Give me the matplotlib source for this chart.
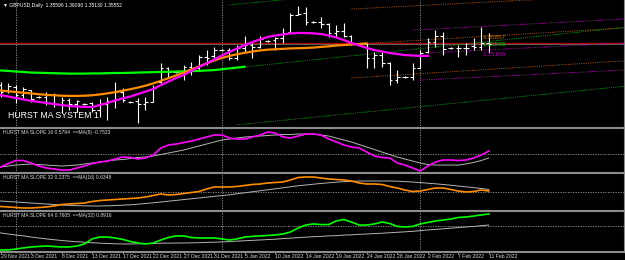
import numpy as np
import matplotlib
matplotlib.use("Agg")
import matplotlib.pyplot as plt
from matplotlib.lines import Line2D

# barre giornaliere GBPUSD (domeniche incluse), indice 0 = 29 Nov 2021
date_labels = ["29 Nov 2021", "3 Dec 2021", "8 Dec 2021", "13 Dec 2021", "17 Dec 2021",
               "22 Dec 2021", "27 Dec 2021", "31 Dec 2021", "5 Jan 2022", "10 Jan 2022",
               "14 Jan 2022", "19 Jan 2022", "24 Jan 2022", "28 Jan 2022", "2 Feb 2022",
               "7 Feb 2022", "11 Feb 2022"]

hi = [1.3374, 1.3369, 1.3359, 1.3350, 1.3335, 1.3307, 1.3326, 1.3321, 1.3302, 1.3297,
      1.3287, 1.3273, 1.3278, 1.3292, 1.3302, 1.3374, 1.3345, 1.3283, 1.3297, 1.3302,
      1.3359, 1.3465, 1.3446, 1.3427, 1.3455, 1.3470, 1.3503, 1.3527, 1.3542, 1.3532,
      1.3537, 1.3551, 1.3595, 1.3561, 1.3595, 1.3575, 1.3590, 1.3633, 1.3705, 1.3739,
      1.3734, 1.3667, 1.3686, 1.3657, 1.3647, 1.3657, 1.3599, 1.3561, 1.3561, 1.3518,
      1.3518, 1.3470, 1.3431, 1.3403, 1.3465, 1.3527, 1.3585, 1.3623, 1.3614, 1.3542,
      1.3551, 1.3561, 1.3585, 1.3638, 1.3609]
lo = [1.3302, 1.3321, 1.3273, 1.3297, 1.3278, 1.3297, 1.3263, 1.3254, 1.3225, 1.3239,
      1.3230, 1.3263, 1.3230, 1.3206, 1.3191, 1.3249, 1.3278, 1.3273, 1.3177, 1.3239,
      1.3278, 1.3369, 1.3393, 1.3417, 1.3383, 1.3407, 1.3431, 1.3455, 1.3489, 1.3523,
      1.3479, 1.3479, 1.3518, 1.3489, 1.3537, 1.3566, 1.3527, 1.3561, 1.3614, 1.3695,
      1.3647, 1.3657, 1.3633, 1.3590, 1.3585, 1.3590, 1.3551, 1.3551, 1.3441, 1.3441,
      1.3446, 1.3359, 1.3369, 1.3393, 1.3383, 1.3441, 1.3513, 1.3542, 1.3503, 1.3532,
      1.3494, 1.3503, 1.3527, 1.3527, 1.3513]
op = [1.3359, 1.3335, 1.3350, 1.3311, 1.3335, 1.3302, 1.3302, 1.3311, 1.3268, 1.3287,
      1.3268, 1.3268, 1.3273, 1.3239, 1.3268, 1.3283, 1.3326, 1.3278, 1.3283, 1.3268,
      1.3278, 1.3374, 1.3441, 1.3422, 1.3422, 1.3446, 1.3441, 1.3494, 1.3498, 1.3527,
      1.3527, 1.3489, 1.3537, 1.3551, 1.3542, 1.3570, 1.3575, 1.3585, 1.3614, 1.3695,
      1.3705, 1.3662, 1.3662, 1.3652, 1.3609, 1.3619, 1.3595, 1.3556, 1.3556, 1.3489,
      1.3503, 1.3465, 1.3383, 1.3398, 1.3398, 1.3441, 1.3518, 1.3566, 1.3595, 1.3537,
      1.3537, 1.3537, 1.3546, 1.3542, 1.3560]
cl = [1.3326, 1.3355, 1.3311, 1.3340, 1.3292, 1.3302, 1.3311, 1.3268, 1.3287, 1.3268,
      1.3283, 1.3268, 1.3239, 1.3268, 1.3283, 1.3326, 1.3287, 1.3278, 1.3268, 1.3278,
      1.3345, 1.3441, 1.3422, 1.3422, 1.3446, 1.3441, 1.3494, 1.3489, 1.3527, 1.3527,
      1.3489, 1.3537, 1.3551, 1.3542, 1.3580, 1.3570, 1.3585, 1.3609, 1.3695, 1.3700,
      1.3662, 1.3662, 1.3652, 1.3609, 1.3619, 1.3595, 1.3556, 1.3556, 1.3489, 1.3503,
      1.3465, 1.3383, 1.3398, 1.3398, 1.3441, 1.3513, 1.3566, 1.3595, 1.3532, 1.3537,
      1.3537, 1.3537, 1.3542, 1.3561, 1.3555]

# medie di Hurst (centrate, finiscono prima dell'ultima barra)
ma16 = [1.3311, 1.3304, 1.3297, 1.3290, 1.3283, 1.3278, 1.3273, 1.3268, 1.3263, 1.3259,
        1.3256, 1.3254, 1.3254, 1.3263, 1.3273, 1.3285, 1.3295, 1.3304, 1.3316, 1.3328,
        1.3340, 1.3359, 1.3376, 1.3393, 1.3407, 1.3427, 1.3446, 1.3463, 1.3482, 1.3501,
        1.3518, 1.3535, 1.3551, 1.3566, 1.3578, 1.3590, 1.3597, 1.3602, 1.3607, 1.3609,
        1.3609, 1.3607, 1.3604, 1.3597, 1.3587, 1.3575, 1.3561, 1.3549, 1.3537, 1.3527,
        1.3520, 1.3513, 1.3508, 1.3503, 1.3501, 1.3499, 1.3499]
ma32 = [1.3333, 1.3329, 1.3326, 1.3322, 1.3319, 1.3315, 1.3312, 1.3310, 1.3308, 1.3307,
        1.3307, 1.3308, 1.3310, 1.3314, 1.3319, 1.3325, 1.3332, 1.3339, 1.3347, 1.3356,
        1.3367, 1.3379, 1.3392, 1.3405, 1.3419, 1.3434, 1.3448, 1.3463, 1.3477, 1.3489,
        1.3499, 1.3507, 1.3514, 1.3520, 1.3525, 1.3529, 1.3531, 1.3533, 1.3535, 1.3536,
        1.3537, 1.3539, 1.3542, 1.3545, 1.3549, 1.3551, 1.3554, 1.3556, 1.3559]
ma64 = [1.3429, 1.3427, 1.3424, 1.3422, 1.3419, 1.3418, 1.3417, 1.3416, 1.3415, 1.3414,
        1.3414, 1.3414, 1.3415, 1.3415, 1.3416, 1.3417, 1.3417, 1.3418, 1.3419, 1.3420,
        1.3421, 1.3422, 1.3423, 1.3424, 1.3425, 1.3426, 1.3427, 1.3429, 1.3431, 1.3435,
        1.3439, 1.3443, 1.3447]

# canali tratteggiati: (barra inizio, prezzo inizio, barra fine, prezzo fine)
ch16 = [(54, 1.3623, 81.7, 1.3676), (56, 1.3513, 81.7, 1.3561), (55, 1.3383, 81.7, 1.3431)]
ch32 = [(46, 1.3724, 81.7, 1.3791), (48, 1.3559, 81.7, 1.3633), (46, 1.3393, 81.7, 1.3475)]
ch64 = [(30, 1.3744, 81.7, 1.3924), (32, 1.3446, 81.7, 1.3636), (31, 1.3168, 81.7, 1.3353)]
ch_labels = ["1.35857", "1.35598", "1.35100"]
ch_label_price = [1.3589, 1.3555, 1.3505]

red_level = 1.3563
bid = 1.35552
month_sep = [2, 29, 55]

slope16 = [-2.5, -1.83, -1.25, -1.25, -1.73, -2.31, -2.69, -2.88, -3.08, -3.08,
           -2.69, -2.31, -1.83, -1.54, -1.35, -0.96, -0.58, -0.67, -0.96, -0.77,
           -0.19, 1.15, 1.73, 1.92, 2.21, 2.5, 2.88, 3.27, 3.65, 3.65,
           3.08, 2.88, 2.88, 3.27, 3.65, 4.23, 4.04, 3.27, 3.08, 3.46,
           3.85, 3.85, 3.65, 2.88, 2.31, 1.73, 1.35, 1.15, 0.38, -0.38,
           -0.67, -0.77, -1.73, -2.12, -2.69, -3.27, -2.31, -1.54, -1.15, -1.15,
           -1.25, -1.15, -0.77, -0.19, 0.58]
slope16_ma = [-2.5, -2.31, -2.12, -2.02, -1.92, -2.02, -2.12, -2.21, -2.31, -2.21,
              -2.12, -1.92, -1.73, -1.54, -1.35, -1.15, -1.06, -0.87, -0.67, -0.58,
              -0.38, -0.1, 0.19, 0.48, 0.77, 1.15, 1.54, 1.92, 2.31, 2.69,
              2.88, 3.08, 3.27, 3.37, 3.46, 3.56, 3.65, 3.75, 3.75, 3.85,
              3.85, 3.85, 3.65, 3.46, 3.08, 2.69, 2.31, 1.83, 1.35, 0.87,
              0.38, -0.1, -0.58, -0.96, -1.35, -1.73, -2.02, -2.12, -2.12, -2.12,
              -2.12, -1.92, -1.63, -1.25, -0.77]
slope32 = [-3.63, -3.75, -3.88, -4.0, -4.0, -3.88, -3.75, -3.5, -3.13, -3.0,
           -2.88, -2.75, -2.38, -2.13, -2.0, -1.88, -1.75, -1.63, -1.5, -1.25,
           -0.88, -0.5, -0.75, -0.63, -0.38, -0.13, 0.13, 0.75, 1.25, 1.25,
           1.25, 1.38, 1.63, 1.88, 2.0, 2.25, 2.38, 2.5, 3.0, 3.63,
           3.75, 3.75, 3.5, 3.25, 3.13, 3.0, 2.75, 2.25, 2.0, 2.0,
           1.88, 1.38, 1.0, 0.5, 0.13, 0.25, 0.63, 1.0, 1.0, 0.63,
           0.25, 0.0, 0.13, 0.5, 0.25]
slope32_ma = [-2.25, -2.38, -2.5, -2.63, -2.75, -2.88, -3.0, -3.13, -3.25, -3.33,
              -3.4, -3.45, -3.5, -3.5, -3.45, -3.38, -3.3, -3.2, -3.05, -2.88,
              -2.7, -2.5, -2.3, -2.1, -1.9, -1.7, -1.5, -1.3, -1.1, -0.9,
              -0.7, -0.45, -0.2, 0.05, 0.3, 0.55, 0.8, 1.05, 1.3, 1.55,
              1.75, 1.95, 2.13, 2.3, 2.45, 2.58, 2.68, 2.75, 2.75, 2.75,
              2.75, 2.75, 2.7, 2.6, 2.5, 2.35, 2.2, 2.05, 1.88, 1.7,
              1.5, 1.3, 1.1, 0.88, 0.63]
slope64 = [-1.52, -1.52, -1.46, -1.39, -1.33, -1.30, -1.27, -1.30, -1.33, -1.33,
           -1.27, -1.14, -0.82, -0.70, -0.70, -0.76, -0.85, -0.98, -1.08, -1.14,
           -1.08, -0.89, -0.73, -0.63, -0.63, -0.73, -0.76, -0.76, -0.76, -0.82,
           -0.89, -0.82, -0.70, -0.66, -0.63, -0.60, -0.57, -0.51, -0.38, -0.13,
           0.06, 0.13, 0.09, 0.09, 0.32, 0.41, 0.25, 0.06, 0.06, 0.13,
           0.25, 0.16, -0.03, -0.06, -0.03, 0.13, 0.22, 0.32, 0.38, 0.44,
           0.54, 0.57, 0.63, 0.70, 0.76]
slope64_ma = [-0.44, -0.51, -0.57, -0.63, -0.70, -0.76, -0.82, -0.87, -0.92, -0.96,
              -1.00, -1.03, -1.06, -1.09, -1.11, -1.13, -1.14, -1.14, -1.13, -1.12,
              -1.11, -1.09, -1.09, -1.08, -1.08, -1.07, -1.06, -1.04, -1.03, -1.01,
              -0.99, -0.96, -0.94, -0.91, -0.89, -0.86, -0.84, -0.80, -0.77, -0.74,
              -0.71, -0.68, -0.66, -0.63, -0.61, -0.58, -0.56, -0.53, -0.51, -0.48,
              -0.46, -0.43, -0.40, -0.37, -0.34, -0.30, -0.25, -0.22, -0.18, -0.14,
              -0.10, -0.06, -0.03, 0.02, 0.06]

panel_titles = ["HURST MA SLOPE 16 0.5794  ==MA(8) -0.7533",
                "HURST MA SLOPE 32 0.2375  ==MA(16) 0.6348",
                "HURST MA SLOPE 64 0.7605  ==MA(32) 0.8916"]

MAG = "#ff00ff"
ORA = "#ff8c00"
GRN = "#00ff00"
FONT = ["Liberation Sans", "DejaVu Sans"]
W, H = 625, 260

fig = plt.figure(figsize=(6.25, 2.6), dpi=100, facecolor="black")


def px_axes(top, bottom):
    a = fig.add_axes([0, 1 - bottom / H, 624 / W, (bottom - top) / H])
    a.set_facecolor("black")
    a.set_xlim(-0.066, 81.72)
    for s in a.spines.values():
        s.set_visible(False)
    a.set_xticks([])
    a.set_yticks([])
    for m in month_sep:
        a.axvline(m, color="#9a9a9a", lw=0.6, ls=(0, (1.5, 1.5)))
    return a


# pannello prezzi
ax = px_axes(0, 127.5)
ax.set_ylim(1.31553, 1.37674)
idx = np.arange(len(hi))
ax.axhline(red_level, color="#b00000", lw=0.9)
ax.axhline(bid, color="#707070", lw=0.6)
for ch, col in [(ch64, "#00a000"), (ch32, "#b45a00"), (ch16, "#b000b0")]:
    for x0, y0, x1, y1 in ch:
        ax.plot([x0, x1], [y0, y1], color=col, lw=0.7, ls=(0, (1.0, 1.3)))
ax.vlines(idx, lo, hi, color="white", lw=0.8)
ax.hlines(op, idx - 0.35, idx, color="white", lw=0.8)
ax.hlines(cl, idx, idx + 0.35, color="white", lw=0.8)
ax.plot(np.arange(len(ma64)), ma64, color=GRN, lw=1.6)
ax.plot(np.arange(len(ma32)), ma32, color=ORA, lw=1.6)
ax.plot(np.arange(len(ma16)), ma16, color=MAG, lw=1.6)
for txt, p, col in zip(ch_labels, ch_label_price, ["#d07000", "#00c000", "#b000b0"]):
    ax.text(63.2, p, txt, color=col, fontsize=4.6, va="center", family=FONT)

fig.text(3 / W, 1 - 5 / H, "\u25bc GBPUSD,Daily  1.35596 1.36090 1.35130 1.35552",
         color="white", fontsize=3.6, va="center", family=FONT)
fig.text(8 / W, 1 - 115 / H, "HURST MA SYSTEM 1", color="white", fontsize=6.3,
         va="center", family=FONT)

# pannelli pendenza
panels = [(127.5, 173, slope16, slope16_ma, MAG, (-3.65, 5.10)),
          (173, 211, slope32, slope32_ma, ORA, (-4.75, 4.75)),
          (211, 252, slope64, slope64_ma, GRN, (-1.65, 0.95))]
axes = []
for (top, bot, s, sm, col, lim), title in zip(panels, panel_titles):
    a = px_axes(top, bot)
    a.set_ylim(*lim)
    a.axhline(0, color="#9a9a9a", lw=0.6, ls=(0, (1.5, 1.5)))
    a.plot(np.arange(len(sm)), sm, color="#b4b4b4", lw=0.7)
    a.plot(np.arange(len(s)), s, color=col, lw=1.2)
    fig.text(3 / W, 1 - (top + 5) / H, title, color="#d8d8d8", fontsize=3.6,
             va="center", family=FONT)
    axes.append(a)

ax3 = axes[-1]
ax3.set_xticks(np.arange(0, 65, 4))
ax3.set_xticklabels(date_labels, ha="left", fontsize=3.7, color="#d8d8d8", family=FONT)
ax3.tick_params(axis="x", length=1.5, width=0.6, color="#9a9a9a", pad=0.3)

# separatori e bordo
for yy in [127.5, 173, 211, 252]:
    fig.add_artist(Line2D([0, 624 / W], [1 - yy / H, 1 - yy / H], color="#8c8c8c", lw=1.5))
fig.add_artist(Line2D([624 / W, 624 / W], [1 - 252 / H, 1], color="#8c8c8c", lw=0.8))

fig.savefig("out.png", dpi=100, facecolor="black")
